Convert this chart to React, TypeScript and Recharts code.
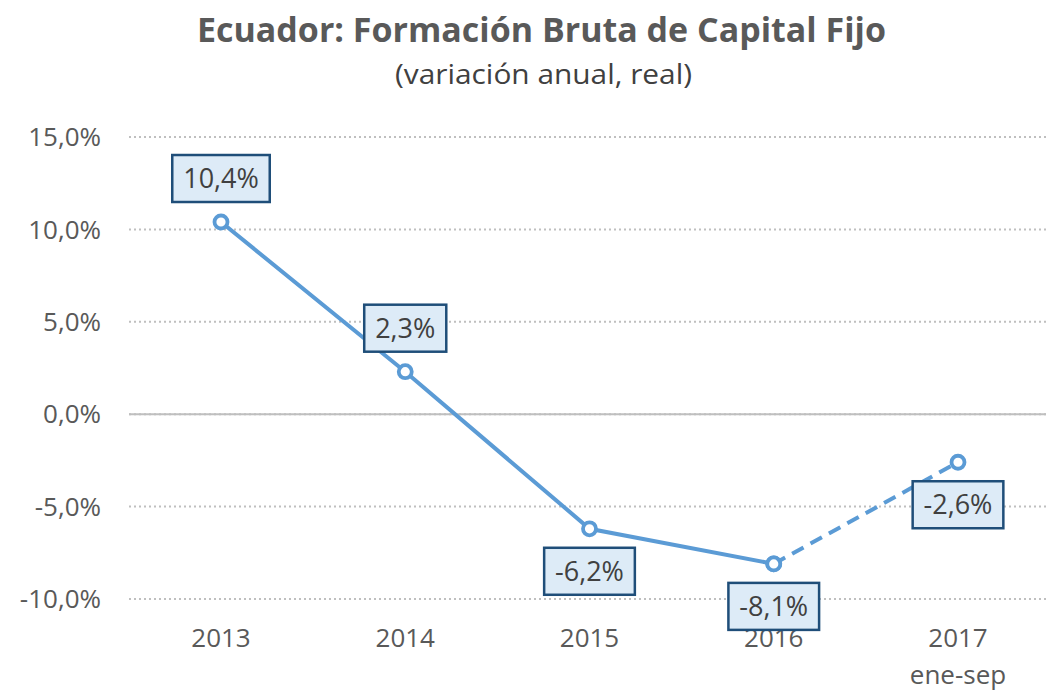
import React from 'react';
import { LineChart, Line, XAxis, YAxis, CartesianGrid, ReferenceLine, LabelList } from 'recharts';

const categories = ['2013', '2014', '2015', '2016', '2017'];
const subLabels = ['', '', '', '', 'ene-sep'];
const values = [10.4, 2.3, -6.2, -8.1, -2.6];
const yTicks = [-10, -5, 0, 5, 10, 15];
const lastSolidIndex = 3;
const title = 'Ecuador: Formación Bruta de Capital Fijo';
const subtitle = '(variación anual, real)';

const data = categories.map((c, i) => ({
  cat: c,
  sub: subLabels[i],
  solid: i <= lastSolidIndex ? values[i] : null,
  dashed: i >= lastSolidIndex ? values[i] : null,
}));

const BLUE = '#5B9BD5';
const FONT = '"Open Sans", "Noto Sans", sans-serif';

const fmt = (v: number) => v.toFixed(1).replace('.', ',') + '%';

const charW = (ch: string) => {
  if (ch === ',') return 0.26;
  if (ch === '%') return 0.82;
  if (ch === '-') return 0.32;
  return 0.572;
};

const makeLabel = (allowed: number[]) => (props: any) => {
  const { x, y, value, index } = props;
  if (value === null || value === undefined) return null;
  if (index !== undefined && !allowed.includes(index)) return null;
  const text = fmt(Number(value));
  const fs = 27;
  const tw = text.split('').reduce((s, c) => s + charW(c), 0) * fs;
  const w = tw + 22;
  const h = 47;
  const ry = Number(value) >= 0 ? y - 20 - h : y + 19;
  return (
    <g>
      <rect x={x - w / 2} y={ry} width={w} height={h} fill="#DDEBF7" stroke="#1F4E79" strokeWidth={2.5} />
      <text x={x} y={ry + h / 2 + fs * 0.36} textAnchor="middle" fontSize={fs} fontFamily={FONT} fill="#404040">
        {text}
      </text>
    </g>
  );
};

const Dot = (props: any) => {
  const { cx, cy, value } = props;
  if (value === null || value === undefined || cx == null || cy == null) return <g />;
  return <circle cx={cx} cy={cy} r={6.5} fill="#FFFFFF" stroke={BLUE} strokeWidth={3.8} />;
};

const XTick = (props: any) => {
  const { x, y, payload, index } = props;
  const sub = subLabels[index] ?? '';
  return (
    <g>
      <text x={x} y={y + 48} textAnchor="middle" fontSize={26} fontFamily={FONT} fill="#595959">
        {payload.value}
      </text>
      {sub ? (
        <text x={x} y={y + 85} textAnchor="middle" fontSize={26} fontFamily={FONT} fill="#595959">
          {sub}
        </text>
      ) : null}
    </g>
  );
};

export default function App() {
  return (
    <div style={{ position: 'absolute', left: 0, top: 0, width: 1046, height: 691, background: '#fff' }}>
      <LineChart
        width={1046}
        height={691}
        data={data}
        margin={{ top: 137, right: 0, bottom: 0, left: 0 }}
      >
        <CartesianGrid vertical={false} stroke="#BFBFBF" strokeWidth={2} strokeDasharray="2 3" />
        <XAxis
          dataKey="cat"
          axisLine={false}
          tickLine={false}
          tickSize={0}
          tickMargin={0}
          height={92}
          padding={{ left: 92, right: 88 }}
          tick={<XTick />}
          interval={0}
        />
        <YAxis
          domain={[-10, 15]}
          ticks={yTicks}
          width={129}
          axisLine={false}
          tickLine={false}
          tickSize={0}
          tickMargin={28}
          tickFormatter={fmt}
          tick={{ fontSize: 26, fontFamily: FONT, fill: '#595959' }}
          interval={0}
        />
        <ReferenceLine y={0} stroke="#BFBFBF" strokeWidth={2} />
        <Line
          dataKey="solid"
          stroke={BLUE}
          strokeWidth={4}
          dot={<Dot />}
          activeDot={false}
          isAnimationActive={false}
          connectNulls={false}
        >
          <LabelList dataKey="solid" content={makeLabel([0, 1, 2, 3])} />
        </Line>
        <Line
          dataKey="dashed"
          stroke={BLUE}
          strokeWidth={4}
          strokeDasharray="13 8"
          dot={<Dot />}
          activeDot={false}
          isAnimationActive={false}
          connectNulls={false}
        >
          <LabelList dataKey="dashed" content={makeLabel([4])} />
        </Line>
      </LineChart>
      <svg width={1046} height={110} style={{ position: 'absolute', left: 0, top: 0, pointerEvents: 'none' }}>
        <text x={541.5} y={42} textAnchor="middle" fontSize={34} fontWeight="bold" fontFamily={FONT} fill="#595959" textLength={689} lengthAdjust="spacingAndGlyphs">
          {title}
        </text>
        <text x={543.5} y={84} textAnchor="middle" fontSize={28} fontFamily={FONT} fill="#404040" textLength={297} lengthAdjust="spacingAndGlyphs">
          {subtitle}
        </text>
      </svg>
    </div>
  );
}
